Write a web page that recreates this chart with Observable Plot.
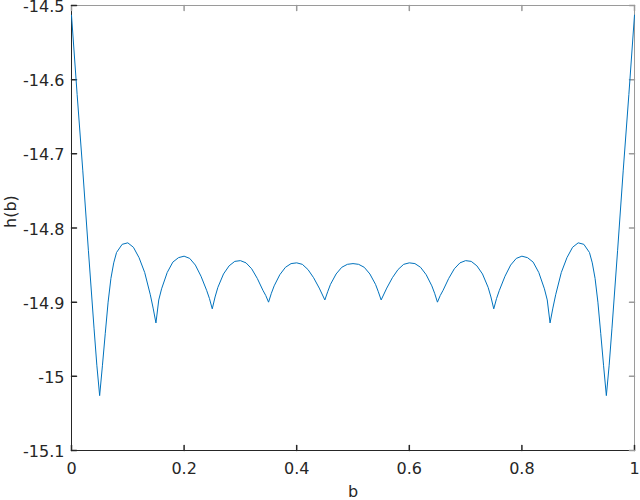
<!DOCTYPE html>
<html>
<head>
<meta charset="utf-8">
<script src="https://cdn.jsdelivr.net/npm/d3@7"></script>
<script src="https://cdn.jsdelivr.net/npm/@observablehq/plot@0.6"></script>
<style>
  html, body { margin: 0; padding: 0; background: #fff; }
  #chart { width: 640px; height: 500px; }
</style>
</head>
<body>
<div id="chart"></div>
<script>
const bValues = [
  0.000, 0.010, 0.020, 0.030, 0.040, 0.045, 0.050, 0.055, 0.060, 0.065,
  0.070, 0.075, 0.080, 0.090, 0.100, 0.110, 0.120, 0.130, 0.140, 0.145,
  0.150, 0.155, 0.160, 0.170, 0.180, 0.190, 0.200, 0.210, 0.220, 0.230,
  0.240, 0.245, 0.250, 0.255, 0.260, 0.270, 0.280, 0.290, 0.300, 0.310,
  0.320, 0.330, 0.340, 0.345, 0.350, 0.355, 0.360, 0.370, 0.380, 0.390,
  0.400, 0.410, 0.420, 0.430, 0.440, 0.445, 0.450, 0.455, 0.460, 0.470,
  0.480, 0.490, 0.500, 0.510, 0.520, 0.530, 0.540, 0.545, 0.550, 0.555,
  0.560, 0.570, 0.580, 0.590, 0.600, 0.610, 0.620, 0.630, 0.640, 0.645,
  0.650, 0.655, 0.660, 0.670, 0.680, 0.690, 0.700, 0.710, 0.720, 0.730,
  0.740, 0.745, 0.750, 0.755, 0.760, 0.770, 0.780, 0.790, 0.800, 0.810,
  0.820, 0.830, 0.840, 0.845, 0.850, 0.855, 0.860, 0.870, 0.880, 0.890,
  0.900, 0.910, 0.920, 0.925, 0.930, 0.935, 0.940, 0.945, 0.950, 0.955,
  0.960, 0.970, 0.980, 0.990, 1.000
];
const hValues = [
  -14.513, -14.620, -14.722, -14.830, -14.935, -14.985, -15.026, -14.985, -14.942, -14.900,
  -14.868, -14.847, -14.833, -14.822, -14.820, -14.826, -14.840, -14.860, -14.890, -14.908,
  -14.928, -14.897, -14.882, -14.860, -14.846, -14.840, -14.838, -14.841, -14.850, -14.865,
  -14.884, -14.895, -14.909, -14.893, -14.880, -14.862, -14.851, -14.845, -14.844, -14.847,
  -14.855, -14.868, -14.884, -14.891, -14.900, -14.888, -14.878, -14.863, -14.853, -14.848,
  -14.847, -14.849, -14.856, -14.867, -14.881, -14.889, -14.897, -14.886, -14.876, -14.862,
  -14.853, -14.849, -14.848, -14.849, -14.853, -14.862, -14.876, -14.886, -14.897, -14.889,
  -14.881, -14.867, -14.856, -14.849, -14.847, -14.848, -14.853, -14.863, -14.878, -14.888,
  -14.900, -14.891, -14.884, -14.868, -14.855, -14.847, -14.844, -14.845, -14.851, -14.862,
  -14.880, -14.893, -14.909, -14.895, -14.884, -14.865, -14.850, -14.841, -14.838, -14.840,
  -14.846, -14.860, -14.882, -14.897, -14.928, -14.908, -14.890, -14.860, -14.840, -14.826,
  -14.820, -14.822, -14.833, -14.847, -14.868, -14.900, -14.942, -14.985, -15.026, -14.985,
  -14.935, -14.830, -14.722, -14.620, -14.513
];
const xTicks = [0, 0.2, 0.4, 0.6, 0.8, 1];
const xTickLabels = ["0", "0.2", "0.4", "0.6", "0.8", "1"];
const yTicks = [-14.5, -14.6, -14.7, -14.8, -14.9, -15, -15.1];
const yTickLabels = ["-14.5", "-14.6", "-14.7", "-14.8", "-14.9", "-15", "-15.1"];
const xLabel = "b";
const yLabel = "h(b)";

const rows = bValues.map((b, i) => ({b, h: hValues[i]}));
const xLab = new Map(xTicks.map((v, i) => [v, xTickLabels[i]]));
const yLab = new Map(yTicks.map((v, i) => [v, yTickLabels[i]]));
const tickShape = {draw(ctx, l) { ctx.moveTo(0, 0); ctx.lineTo(0, -l); }};
const dark = "#262626";
const light = "#9a9a9a";

const chart = Plot.plot({
  width: 640,
  height: 500,
  marginLeft: 71,
  marginRight: 6,
  marginTop: 5,
  marginBottom: 50,
  style: {fontFamily: "DejaVu Sans", fontSize: "16px", color: dark, background: "#fff", overflow: "visible"},
  x: {domain: [0, 1]},
  y: {domain: [-15.1, -14.5]},
  marks: [
    Plot.ruleY([-14.5], {stroke: light}),
    Plot.ruleX([1], {stroke: light}),
    Plot.ruleY([-15.1], {stroke: dark}),
    Plot.ruleX([0], {stroke: dark}),
    Plot.vector(xTicks, {x: d => d, frameAnchor: "bottom", length: 5, rotate: 0, anchor: "start", shape: tickShape, stroke: dark}),
    Plot.vector(xTicks, {x: d => d, frameAnchor: "top", length: 5, rotate: 180, anchor: "start", shape: tickShape, stroke: light}),
    Plot.vector(yTicks, {y: d => d, frameAnchor: "left", length: 5, rotate: 90, anchor: "start", shape: tickShape, stroke: dark}),
    Plot.vector(yTicks, {y: d => d, frameAnchor: "right", length: 5, rotate: -90, anchor: "start", shape: tickShape, stroke: light}),
    Plot.axisX({ticks: xTicks, tickSize: 0, tickPadding: 12, tickFormat: d => xLab.get(d), fontSize: 16, fill: dark, label: null}),
    Plot.axisY({ticks: yTicks, tickSize: 0, tickPadding: 7, dy: 1.5, tickFormat: d => yLab.get(d), fontSize: 16, fill: dark, label: null}),
    Plot.text([xLabel], {frameAnchor: "bottom", dy: 41, lineAnchor: "middle", fontSize: 16, fill: dark, text: d => d}),
    Plot.text([yLabel], {frameAnchor: "left", dx: -61, rotate: -90, lineAnchor: "middle", fontSize: 16, fill: dark, text: d => d}),
    Plot.line(rows, {x: "b", y: "h", stroke: "#0072BD", strokeWidth: 1})
  ]
});
document.getElementById("chart").appendChild(chart);
</script>
</body>
</html>
